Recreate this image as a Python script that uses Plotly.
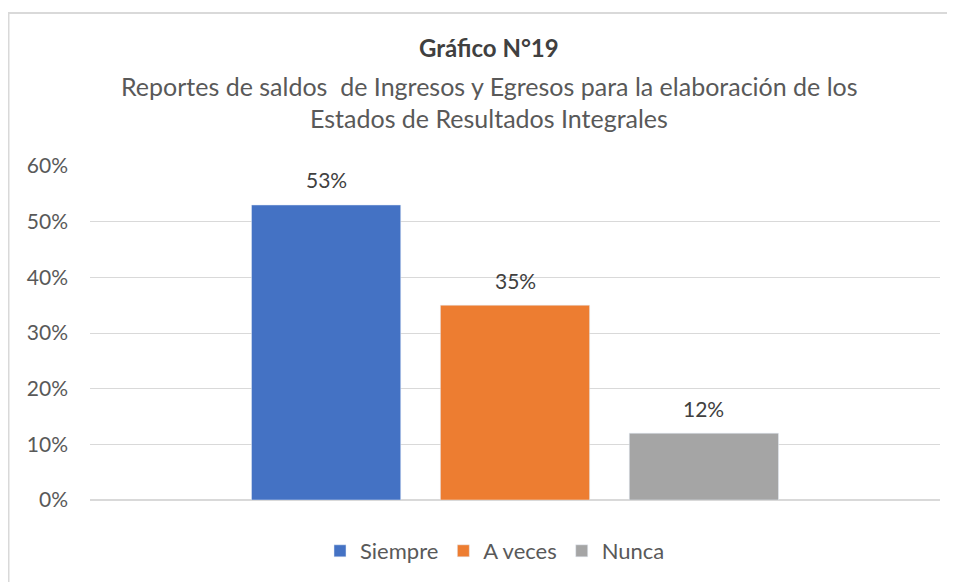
import plotly.graph_objects as go

categories = ["Siempre", "A veces", "Nunca"]
values = [0.53, 0.35, 0.12]
colors = ["#4472C4", "#ED7D31", "#A5A5A5"]
tick_vals = [0, 0.1, 0.2, 0.3, 0.4, 0.5, 0.6]
tick_text = ["0%", "10%", "20%", "30%", "40%", "50%", "60%"]

OFF = 8  # page body margin offset
W, H = 955, 582
# target screen positions of the plot area
SX0, SX1, SY0, SY1 = 90, 940, 166, 500
L, T = SX0 - OFF, SY0 - OFF
R, B = W - (SX1 - OFF), H - (SY1 - OFF)
pw, ph = SX1 - SX0, SY1 - SY0

def px(x):
    return (x - SX0) / pw

def py(y):
    return (SY1 - y) / ph

FONT = "Lato, Carlito, Calibri, sans-serif"

fig = go.Figure()
for cat, val, col in zip(categories, values, colors):
    fig.add_trace(go.Bar(
        x=[cat], y=[val], name=cat, marker_color=col, width=0.79,
    ))
    fig.add_annotation(x=cat, y=val, text=f"{round(val*100)}%", showarrow=False,
                       yanchor="middle", yshift=25,
                       font=dict(size=21, color="#404040", family=FONT))

fig.update_layout(
    width=W, height=H,
    margin=dict(l=L, r=R, t=T, b=B, autoexpand=False),
    paper_bgcolor="white", plot_bgcolor="white",
    barmode="overlay",
    font=dict(family=FONT, color="#595959"),
    showlegend=True,
    legend=dict(orientation="h", x=px(495), y=py(551), xanchor="center", yanchor="middle",
                font=dict(size=22, color="#595959", family=FONT), itemwidth=30,
                traceorder="normal"),
    yaxis=dict(range=[0, 0.6], tickvals=tick_vals, ticktext=tick_text,
               gridcolor="#D9D9D9", gridwidth=1, zeroline=True, zerolinecolor="#D9D9D9",
               showline=False, ticks="", tickfont=dict(size=21, color="#595959", family=FONT),
               ticklabelstandoff=21),
    xaxis=dict(type="category", range=[-1.25, 3.25], showticklabels=False, ticks="",
               showline=False, showgrid=False),
)

annotations = [
    dict(text="<b>Gráfico N°19</b>", x=px(489), y=py(47), size=24, color="#404040"),
    dict(text="Reportes de saldos  de Ingresos y Egresos para la elaboración de los", x=px(489), y=py(86), size=25, color="#595959"),
    dict(text="Estados de Resultados Integrales", x=px(489), y=py(118), size=25, color="#595959"),
]
for a in annotations:
    fig.add_annotation(text=a["text"], x=a["x"], y=a["y"], xref="paper", yref="paper",
                       showarrow=False, xanchor="center", yanchor="middle",
                       font=dict(size=a["size"], color=a["color"], family=FONT))

# chart frame
fig.add_shape(type="line", xref="paper", yref="paper", x0=px(5), x1=px(970), y0=py(13), y1=py(13),
              line=dict(color="#D9D9D9", width=2))
fig.add_shape(type="line", xref="paper", yref="paper", x0=px(8.5), x1=px(8.5), y0=py(13), y1=py(600),
              line=dict(color="#D9D9D9", width=2))

fig.write_html("out.html")
